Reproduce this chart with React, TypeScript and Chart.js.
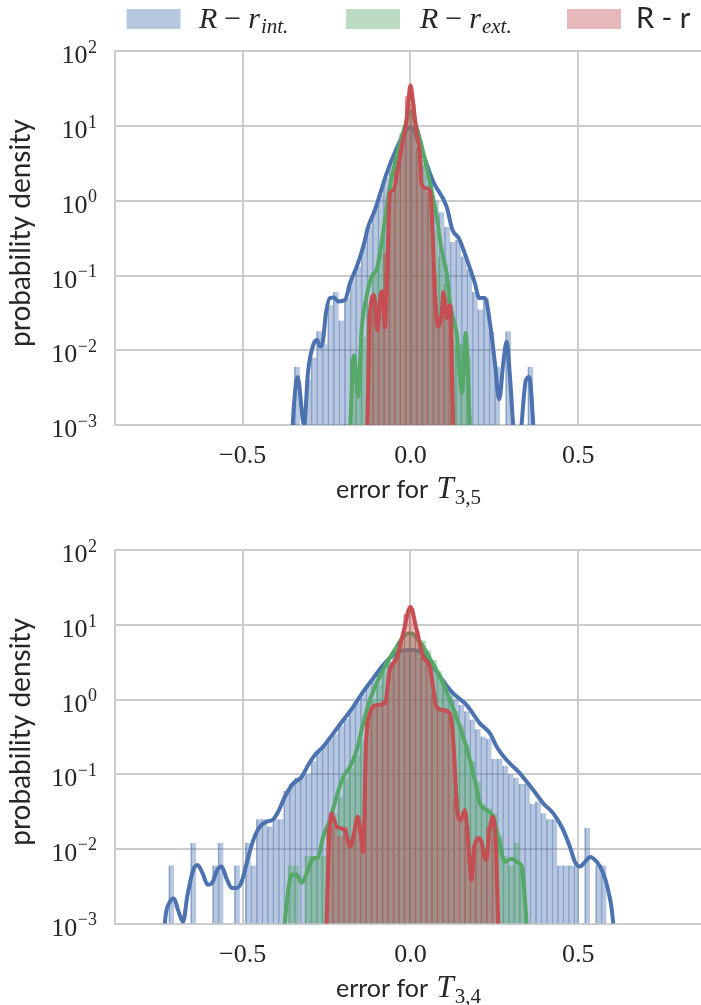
import React, { useEffect, useRef } from "react";
import { Chart, registerables } from "chart.js";

Chart.register(...registerables);

// ---------- axis / text data ----------
const X_MIN = -0.88;
const X_MAX = 0.8656;
const X_TICKS = [-0.5, 0, 0.5];
const X_TICK_LABELS = ["\u22120.5", "0.0", "0.5"];
const Y_TICKS = [1e-3, 1e-2, 1e-1, 1, 10, 100];
const Y_TICK_EXPONENTS = ["\u22123", "\u22122", "\u22121", "0", "1", "2"];
const Y_TITLE = "probability density";
const X_TITLE_TEXT = "error for ";
const X_TITLE_VAR = "T";
const TOP_SUBSCRIPT = "3,5";
const BOTTOM_SUBSCRIPT = "3,4";
const LEGEND_MATH_SUBS = ["int.", "ext."];
const LEGEND_PLAIN = "R - r";

// ---------- top panel (T3,5) histograms ----------
const TOP_BLUE_START = -0.346;
const TOP_BLUE_WIDTH = 0.01656;
const TOP_BLUE_HIST = [
  0.006, 0, 0.004, 0.008, 0.018, 0.012, 0.04, 0.06, 0.025, 0.05, 0.09, 0.13, 0.25, 0.45,
  0.75, 1.2, 2.0, 3.0, 4.5, 7.0, 9.0, 8.5, 5.5, 3.0, 1.8, 1.0, 0.7, 0.45, 0.28, 0.3, 0.18,
  0.12, 0.06, 0.035, 0.05, 0.018, 0.006, 0, 0.018, 0, 0, 0, 0.006,
];
const TOP_GREEN_START = -0.18;
const TOP_GREEN_WIDTH = 0.0164;
const TOP_GREEN_HIST = [
  0.008, 0.004, 0.015, 0.04, 0.1, 0.2, 0.6, 1.6, 4.0, 8.0, 14, 13, 7, 3.5, 1.2, 0.4, 0.18,
  0.08, 0.025, 0.012, 0.012, 0.008,
];
const TOP_RED_START = -0.128;
const TOP_RED_WIDTH = 0.016;
const TOP_RED_HIST = [
  0.03, 0.04, 0.04, 0.2, 1.3, 2.5, 6, 25, 20, 5, 1.5, 1.3, 0.1, 0.03, 0.05, 0.04,
];

// ---------- top panel KDE curves [x, density] ----------
const TOP_BLUE_KDE = [
  [-0.356, 0.0003], [-0.352, 0.0008], [-0.336, 0.0044], [-0.317, 0.001], [-0.3045, 0.0054],
  [-0.2875, 0.0124], [-0.2777, 0.0137], [-0.2697, 0.0112], [-0.2617, 0.0124], [-0.2518, 0.031],
  [-0.24, 0.05], [-0.228, 0.051], [-0.215, 0.045], [-0.195, 0.047], [-0.18, 0.079],
  [-0.16, 0.131], [-0.1406, 0.243], [-0.1257, 0.45], [-0.1058, 0.75], [-0.0709, 2.33],
  [-0.041, 5.05], [-0.0215, 7.6], [-0.0066, 9.3], [0, 9.8], [0.0086, 8.85], [0.033, 4.8],
  [0.068, 1.8], [0.108, 0.83], [0.125, 0.41], [0.145, 0.31], [0.172, 0.146], [0.192, 0.079],
  [0.205, 0.05], [0.222, 0.05], [0.237, 0.023], [0.2518, 0.0067], [0.2646, 0.0022],
  [0.2765, 0.0067], [0.2866, 0.013], [0.2965, 0.0044], [0.306, 0.001], [0.318, 0.0002],
  [0.331, 0.001], [0.344, 0.004], [0.354, 0.0044], [0.366, 0.001], [0.372, 0.0003],
];
const TOP_GREEN_KDE = [
  [-0.184, 0.0003], [-0.179, 0.001], [-0.168, 0.0086], [-0.1555, 0.0024], [-0.1455, 0.0186],
  [-0.1306, 0.052], [-0.1157, 0.097], [-0.1008, 0.119], [-0.0909, 0.198], [-0.076, 0.55],
  [-0.061, 1.55], [-0.0363, 4.8], [-0.0164, 9.8], [0, 15.5], [0.018, 9.8], [0.048, 2.86],
  [0.078, 0.61], [0.093, 0.22], [0.108, 0.107], [0.1177, 0.043], [0.1276, 0.026],
  [0.1376, 0.017], [0.154, 0.0027], [0.1645, 0.017], [0.177, 0.001], [0.182, 0.0003],
];
const TOP_RED_KDE = [
  [-0.132, 0.0003], [-0.1285, 0.001], [-0.1207, 0.03], [-0.108, 0.055], [-0.099, 0.0186],
  [-0.088, 0.058], [-0.083, 0.061], [-0.076, 0.02], [-0.068, 0.16], [-0.061, 1.26],
  [-0.0512, 1.39], [-0.0363, 2.86], [-0.0232, 6.2], [-0.0134, 10.3], [-0.0066, 20], [0, 35],
  [0.0083, 20], [0.0185, 8.0], [0.028, 4.3], [0.033, 1.7], [0.048, 1.47], [0.06, 1.26],
  [0.066, 0.37], [0.073, 0.058], [0.083, 0.0207], [0.093, 0.03], [0.098, 0.06], [0.108, 0.027],
  [0.1177, 0.04], [0.1276, 0.001], [0.131, 0.0003],
];

// ---------- bottom panel (T3,4) histograms ----------
const BOT_BLUE_START = -0.72;
const BOT_BLUE_WIDTH = 0.0163;
const BOT_BLUE_HIST = [
  0.006, 0, 0, 0, 0.012, 0, 0, 0, 0.006, 0.012, 0, 0, 0.006, 0, 0.012, 0.006, 0.025, 0.025,
  0.02, 0.025, 0.025, 0.06, 0.075, 0.09, 0.1, 0.1, 0.15, 0.2, 0.25, 0.3, 0.35, 0.45, 0.55,
  0.75, 0.9, 1.2, 1.5, 1.9, 2.4, 2.8, 3.3, 3.9, 4.2, 4.6, 4.7, 4.4, 3.8, 3.2, 2.6, 2.1, 1.6,
  1.3, 1.0, 0.85, 0.7, 0.54, 0.4, 0.32, 0.3, 0.16, 0.16, 0.13, 0.1, 0.09, 0.074, 0.074, 0.04,
  0.043, 0.03, 0.025, 0.025, 0.006, 0.006, 0.006, 0.006, 0, 0.019, 0, 0.006, 0.006,
];
const BOT_GREEN_START = -0.364;
const BOT_GREEN_WIDTH = 0.0164;
const BOT_GREEN_HIST = [
  0.006, 0.006, 0, 0.008, 0.008, 0.008, 0.008, 0.019, 0.03, 0.05, 0.09, 0.12, 0.18, 0.3, 0.6,
  1.0, 1.6, 2.4, 3.2, 4.4, 5.6, 7.0, 8.0, 7.6, 6.2, 4.6, 3.4, 2.4, 1.6, 1.1, 0.7, 0.45, 0.25,
  0.15, 0.08, 0.04, 0.035, 0.03, 0.015, 0.008, 0.006, 0.012, 0.006,
];
const BOT_RED_START = -0.25;
const BOT_RED_WIDTH = 0.0164;
const BOT_RED_HIST = [
  0.02, 0.02, 0.015, 0.02, 0.012, 0.025, 0.015, 0.5, 0.8, 0.8, 1.0, 2.2, 3.5, 6, 14, 17, 8,
  3.8, 3, 1.2, 0.75, 0.7, 0.6, 0.05, 0.025, 0.02, 0.006, 0.015, 0.01, 0.02, 0.015,
];

// ---------- bottom panel KDE curves [x, density] ----------
const BOT_BLUE_KDE = [
  [-0.737, 0.0003], [-0.7315, 0.001], [-0.7166, 0.00195], [-0.7047, 0.00217], [-0.6919, 0.0015],
  [-0.677, 0.00105], [-0.665, 0.00228], [-0.647, 0.0052], [-0.634, 0.0061], [-0.619, 0.0047],
  [-0.604, 0.0033], [-0.589, 0.0036], [-0.5757, 0.0052], [-0.5626, 0.0058], [-0.5477, 0.004],
  [-0.5328, 0.003], [-0.518, 0.003], [-0.503, 0.0036], [-0.488, 0.0064], [-0.468, 0.0131],
  [-0.4485, 0.0198], [-0.4286, 0.0231], [-0.4088, 0.0248], [-0.394, 0.0314], [-0.374, 0.05],
  [-0.349, 0.0755], [-0.324, 0.092], [-0.3045, 0.133], [-0.2846, 0.181], [-0.26, 0.234],
  [-0.23, 0.353], [-0.2, 0.533], [-0.1704, 0.8], [-0.1406, 1.28], [-0.111, 1.93],
  [-0.081, 2.91], [-0.0513, 3.96], [-0.0262, 4.48], [0, 4.62], [0.0283, 4.39], [0.058, 3.22],
  [0.088, 2.03], [0.1276, 1.21], [0.1675, 0.845], [0.207, 0.481], [0.237, 0.353],
  [0.257, 0.234], [0.2866, 0.155], [0.326, 0.103], [0.366, 0.0614], [0.3957, 0.0407],
  [0.4255, 0.0299], [0.4505, 0.0198], [0.475, 0.0107], [0.49, 0.0067], [0.505, 0.0058],
  [0.52, 0.0067], [0.535, 0.0078], [0.555, 0.0067], [0.5745, 0.0047], [0.589, 0.0028],
  [0.604, 0.001], [0.61, 0.0003],
];
const BOT_GREEN_KDE = [
  [-0.38, 0.0003], [-0.374, 0.001], [-0.364, 0.0028], [-0.354, 0.0045], [-0.339, 0.0045],
  [-0.324, 0.0035], [-0.309, 0.0047], [-0.2896, 0.0074], [-0.2747, 0.0078], [-0.26, 0.0145],
  [-0.24, 0.0243], [-0.22, 0.05], [-0.2, 0.0927], [-0.18, 0.126], [-0.16, 0.211],
  [-0.1406, 0.481], [-0.1207, 0.989], [-0.1008, 1.65], [-0.071, 3.07], [-0.041, 5.12],
  [-0.0215, 6.97], [0, 7.73], [0.0283, 5.97], [0.058, 3.57], [0.088, 2.03], [0.1177, 0.989],
  [0.1475, 0.434], [0.172, 0.19], [0.192, 0.0836], [0.207, 0.0407], [0.227, 0.0331],
  [0.2467, 0.0269], [0.2616, 0.0145], [0.2816, 0.0067], [0.3015, 0.0074], [0.3164, 0.0067],
  [0.331, 0.0058], [0.346, 0.001], [0.352, 0.0003],
];
const BOT_RED_KDE = [
  [-0.254, 0.0003], [-0.25, 0.001], [-0.243, 0.0107], [-0.235, 0.0299], [-0.22, 0.0198],
  [-0.195, 0.0179], [-0.18, 0.0107], [-0.168, 0.0161], [-0.157, 0.0269], [-0.148, 0.0161],
  [-0.1406, 0.0091], [-0.1326, 0.234], [-0.1207, 0.655], [-0.1008, 0.845], [-0.076, 0.891],
  [-0.061, 2.49], [-0.041, 3.57], [-0.0215, 7.73], [0, 17.5], [0.0185, 8.57], [0.038, 3.76],
  [0.058, 2.76], [0.078, 0.8], [0.0977, 0.724], [0.1177, 0.655], [0.1276, 0.287],
  [0.1395, 0.0331], [0.1495, 0.0243], [0.1624, 0.0331], [0.1724, 0.0119], [0.1823, 0.0038],
  [0.19, 0.0107], [0.207, 0.0138], [0.225, 0.0071], [0.235, 0.0161], [0.245, 0.0269],
  [0.2548, 0.0107], [0.2616, 0.001], [0.266, 0.0003],
];

// ---------- styles ----------
const BLUE = [76, 114, 176];
const GREEN = [85, 168, 104];
const RED = [196, 78, 82];
const GRID = "#cccccc";
const TEXT = "#262626";
const SERIF = '"Liberation Serif", "DejaVu Serif", serif';
const SANS = 'Lato, "Open Sans", sans-serif';

const rgba = (c: number[], a: number) => `rgba(${c[0]},${c[1]},${c[2]},${a})`;

function histDataset(start: number, width: number, values: number[], color: number[], axis: string, order: number) {
  return {
    type: "bar",
    xAxisID: axis,
    yAxisID: "y",
    data: values.map((v, i) => ({ x: start + width * (i + 0.5), y: v > 0 ? v : null })),
    backgroundColor: rgba(color, 0.4),
    borderColor: rgba(color, 0.58),
    borderWidth: { left: 1, right: 0, top: 0, bottom: 0 },
    borderSkipped: false,
    barPercentage: 1,
    categoryPercentage: 1,
    grouped: false,
    order,
  };
}

function kdeDataset(points: number[][], color: number[], order: number) {
  return {
    type: "line",
    xAxisID: "x",
    yAxisID: "y",
    data: points.map(([x, y]) => ({ x, y })),
    borderColor: rgba(color, 1),
    borderWidth: 4,
    pointRadius: 0,
    fill: false,
    cubicInterpolationMode: "monotone",
    borderJoinStyle: "round",
    borderCapStyle: "round",
    clip: 0,
    order,
  };
}

type Panel = {
  height: number;
  padTop: number;
  axisH: number;
  sub: string;
  legend: boolean;
  hists: { start: number; width: number; values: number[] }[];
  kdes: number[][][];
};

function textPlugin(panel: Panel) {
  return {
    id: "mathText",
    afterDraw(chart: any) {
      const { ctx, chartArea: a, scales } = chart;
      const ys = scales.y;
      const xs = scales.x;
      ctx.save();
      ctx.fillStyle = TEXT;
      ctx.textBaseline = "alphabetic";
      ctx.textAlign = "left";
      // y tick labels 10^n
      Y_TICKS.forEach((v, i) => {
        const py = ys.getPixelForValue(v);
        const right = a.left - 18;
        const exp = Y_TICK_EXPONENTS[i];
        ctx.font = `18px ${SERIF}`;
        const ew = ctx.measureText(exp).width;
        ctx.fillText(exp, right - ew, py + 1.5);
        ctx.font = `26px ${SERIF}`;
        const bw = ctx.measureText("10").width;
        ctx.fillText("10", right - ew - bw - 0.5, py + 12);
      });
      // x tick labels
      ctx.font = `26px ${SERIF}`;
      ctx.textAlign = "center";
      X_TICKS.forEach((v, i) => {
        ctx.fillText(X_TICK_LABELS[i], xs.getPixelForValue(v), a.bottom + 38);
      });
      // y title
      ctx.save();
      ctx.translate(29.5, (a.top + a.bottom) / 2 - 5);
      ctx.rotate(-Math.PI / 2);
      ctx.font = `28px ${SANS}`;
      ctx.textAlign = "center";
      ctx.fillText(Y_TITLE, 0, 0);
      ctx.restore();
      // x title: "error for T_{sub}"
      ctx.textAlign = "left";
      const cx = (a.left + a.right) / 2;
      const by = a.bottom + 73;
      ctx.font = `25px ${SANS}`;
      const w1 = ctx.measureText(X_TITLE_TEXT).width;
      ctx.font = `italic 31px ${SERIF}`;
      const w2 = ctx.measureText(X_TITLE_VAR).width;
      ctx.font = `21px ${SERIF}`;
      const w3 = ctx.measureText(panel.sub).width;
      let x0 = cx - (w1 + w2 + 2 + w3) / 2;
      ctx.font = `25px ${SANS}`;
      ctx.fillText(X_TITLE_TEXT, x0, by);
      x0 += w1 + 2;
      ctx.font = `italic 31px ${SERIF}`;
      ctx.fillText(X_TITLE_VAR, x0, by);
      x0 += w2 + 1;
      ctx.font = `21px ${SERIF}`;
      ctx.fillText(panel.sub, x0, by + 6);

      // legend
      if (panel.legend) {
        const patches = [
          { c: BLUE, x: 126.5, tx: 199 },
          { c: GREEN, x: 346, tx: 420 },
          { c: RED, x: 567, tx: 636 },
        ];
        patches.forEach((p, i) => {
          ctx.fillStyle = rgba(p.c, 0.4);
          ctx.fillRect(p.x, 9, 54, 20);
          ctx.fillStyle = TEXT;
          const base = 28;
          if (i < 2) {
            let lx = p.tx;
            ctx.font = `italic 30px ${SERIF}`;
            ctx.fillText("R", lx, base);
            lx += ctx.measureText("R").width + 7;
            ctx.font = `30px ${SERIF}`;
            ctx.fillText("\u2212", lx, base);
            lx += ctx.measureText("\u2212").width + 7;
            ctx.font = `italic 30px ${SERIF}`;
            ctx.fillText("r", lx, base);
            lx += ctx.measureText("r").width + 1;
            ctx.font = `italic 21px ${SERIF}`;
            ctx.fillText(LEGEND_MATH_SUBS[i], lx, base + 5);
          } else {
            ctx.font = `29px ${SANS}`;
            ctx.fillText(LEGEND_PLAIN, p.tx, base);
          }
        });
      }
      ctx.restore();
    },
  };
}

function hiddenAxis() {
  return {
    type: "linear",
    display: false,
    min: X_MIN,
    max: X_MAX,
    offset: false,
    afterBuildTicks: (s: any) => {
      s.ticks = [];
    },
  };
}

function makeConfig(panel: Panel): any {
  const colors = [BLUE, GREEN, RED];
  const axes = ["xb", "xg", "xr"];
  const datasets: any[] = [];
  panel.hists.forEach((h, i) => {
    datasets.push(histDataset(h.start, h.width, h.values, colors[i], axes[i], 6 - 2 * i));
    datasets.push(kdeDataset(panel.kdes[i], colors[i], 5 - 2 * i));
  });
  return {
    type: "line",
    data: { datasets },
    options: {
      responsive: false,
      animation: false,
      events: [],
      layout: { padding: { top: panel.padTop, left: 0, right: 0, bottom: 0 } },
      plugins: {
        legend: { display: false },
        tooltip: { enabled: false },
        title: { display: false },
      },
      scales: {
        x: {
          type: "linear",
          min: X_MIN,
          max: X_MAX,
          offset: false,
          afterBuildTicks: (s: any) => {
            s.ticks = X_TICKS.map((v) => ({ value: v }));
          },
          afterFit: (s: any) => {
            s.height = panel.axisH;
          },
          ticks: { display: false },
          grid: { color: GRID, lineWidth: 2, drawTicks: false, offset: false },
          border: { display: true, color: GRID, width: 2 },
        },
        xb: hiddenAxis(),
        xg: hiddenAxis(),
        xr: hiddenAxis(),
        y: {
          type: "logarithmic",
          min: 1e-3,
          max: 1e2,
          afterBuildTicks: (s: any) => {
            s.ticks = Y_TICKS.map((v) => ({ value: v }));
          },
          afterFit: (s: any) => {
            s.width = 115;
          },
          ticks: { display: false },
          grid: { color: GRID, lineWidth: 2, drawTicks: false },
          border: { display: true, color: GRID, width: 2 },
        },
      },
    },
    plugins: [textPlugin(panel)],
  };
}

const TOP_PANEL: Panel = {
  height: 520,
  padTop: 51.3,
  axisH: 95,
  sub: TOP_SUBSCRIPT,
  legend: true,
  hists: [
    { start: TOP_BLUE_START, width: TOP_BLUE_WIDTH, values: TOP_BLUE_HIST },
    { start: TOP_GREEN_START, width: TOP_GREEN_WIDTH, values: TOP_GREEN_HIST },
    { start: TOP_RED_START, width: TOP_RED_WIDTH, values: TOP_RED_HIST },
  ],
  kdes: [TOP_BLUE_KDE, TOP_GREEN_KDE, TOP_RED_KDE],
};

const BOTTOM_PANEL: Panel = {
  height: 485,
  padTop: 30.4,
  axisH: 81.5,
  sub: BOTTOM_SUBSCRIPT,
  legend: false,
  hists: [
    { start: BOT_BLUE_START, width: BOT_BLUE_WIDTH, values: BOT_BLUE_HIST },
    { start: BOT_GREEN_START, width: BOT_GREEN_WIDTH, values: BOT_GREEN_HIST },
    { start: BOT_RED_START, width: BOT_RED_WIDTH, values: BOT_RED_HIST },
  ],
  kdes: [BOT_BLUE_KDE, BOT_GREEN_KDE, BOT_RED_KDE],
};

export default function App() {
  const topRef = useRef<HTMLCanvasElement>(null);
  const botRef = useRef<HTMLCanvasElement>(null);

  useEffect(() => {
    document.body.style.margin = "0";
    document.body.style.overflow = "hidden";
    const c1 = new Chart(topRef.current as HTMLCanvasElement, makeConfig(TOP_PANEL));
    const c2 = new Chart(botRef.current as HTMLCanvasElement, makeConfig(BOTTOM_PANEL));
    return () => {
      c1.destroy();
      c2.destroy();
    };
  }, []);

  return (
    <div style={{ position: "relative", width: 701, height: 1005, overflow: "hidden", background: "#ffffff" }}>
      <canvas
        ref={topRef}
        width={701}
        height={TOP_PANEL.height}
        style={{ position: "absolute", left: 0, top: 0, display: "block" }}
      />
      <canvas
        ref={botRef}
        width={701}
        height={BOTTOM_PANEL.height}
        style={{ position: "absolute", left: 0, top: TOP_PANEL.height, display: "block" }}
      />
    </div>
  );
}
